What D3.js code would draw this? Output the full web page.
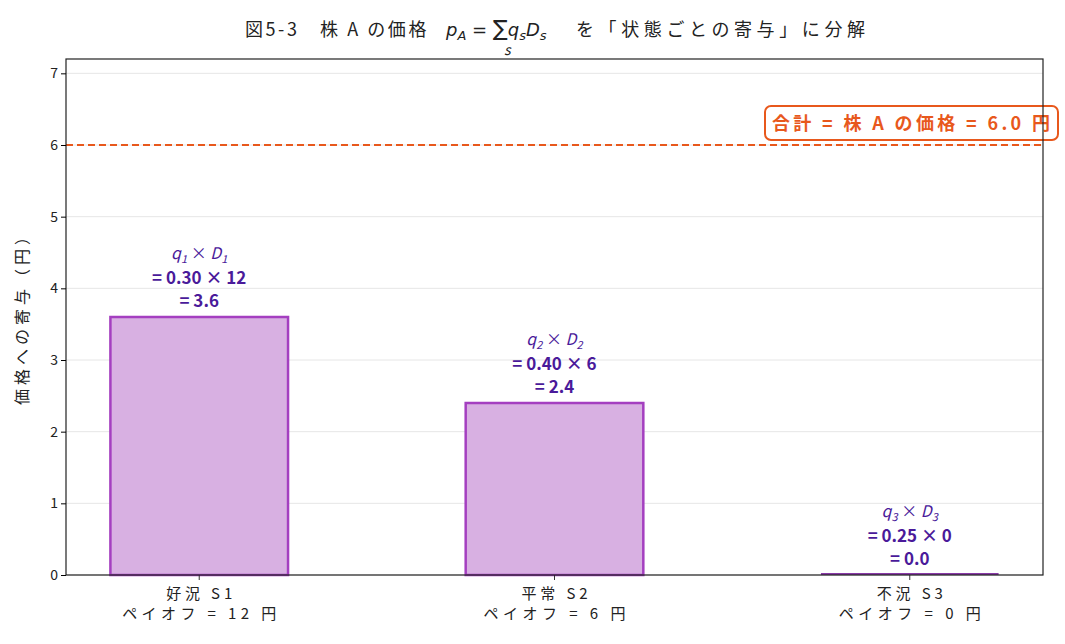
<!DOCTYPE html><html><head><meta charset="utf-8">
<script src="https://cdn.jsdelivr.net/npm/d3@7"></script>
<style>body{margin:0;background:#fff}text{font-family:"Noto Sans CJK JP","Noto Sans",sans-serif}</style></head><body>
<svg id="c" width="1065" height="644"></svg>
<script>
const categories=["好況 S1","平常 S2","不況 S3"];
const payoffLabels=["ペイオフ = 12 円","ペイオフ = 6 円","ペイオフ = 0 円"];
const probs=["0.30","0.40","0.25"];
const payoffs=["12","6","0"];
const values=[3.6,2.4,0.0];
const yTicks=[0,1,2,3,4,5,6,7];
const total=6.0;
const svg=d3.select("#c");
const L=66,R=1043,T=59,B=575;
const x=d3.scaleLinear().domain([-0.375,2.375]).range([L,R]);
const y=d3.scaleLinear().domain([0,7.2]).range([B,T]);
const purple="#4a1a9a",orange="#e8581c";
yTicks.forEach(t=>{svg.append("line").attr("x1",L).attr("x2",R).attr("y1",y(t)).attr("y2",y(t)).attr("stroke","#e6e6e6").attr("stroke-width",1);});
categories.forEach((c,i)=>{
 const bw=x(0.25)-x(-0.25);
 if(values[i]>0){
 svg.append("rect").attr("x",x(i-0.25)).attr("width",bw).attr("y",y(values[i])).attr("height",y(0)-y(values[i]))
 .attr("fill","#d8b0e2").attr("stroke","#a43fc0").attr("stroke-width",2.5);
 } else {
 svg.append("line").attr("x1",x(i-0.25)).attr("x2",x(i+0.25)).attr("y1",y(0)-1).attr("y2",y(0)-1).attr("stroke","#8a3aa8").attr("stroke-width",2);
 }
 const cx=x(i),top=y(values[i]);
 const g=svg.append("g").attr("fill",purple).attr("text-anchor","middle").attr("font-size",16);
 const t1=g.append("text").attr("x",cx).attr("y",top-58).attr("font-style","italic").attr("font-family","DejaVu Sans");
 t1.append("tspan").text("q");t1.append("tspan").attr("font-size",11).attr("dy",4).text(i+1);
 t1.append("tspan").attr("dy",-4).attr("font-style","normal").text(" × ");
 t1.append("tspan").text("D");t1.append("tspan").attr("font-size",11).attr("dy",4).text(i+1);
 g.append("text").attr("x",cx).attr("y",top-33).attr("font-weight","bold").attr("font-family","Roboto, sans-serif").attr("font-size",17).text("= "+probs[i]+" × "+payoffs[i]);
 g.append("text").attr("x",cx).attr("y",top-10).attr("font-weight","bold").attr("font-family","Roboto, sans-serif").attr("font-size",17).text("= "+values[i].toFixed(1));
 svg.append("line").attr("x1",cx).attr("x2",cx).attr("y1",B).attr("y2",B+5).attr("stroke","#333");
 svg.append("text").attr("x",cx).attr("y",B+24).attr("text-anchor","middle").attr("font-size",15).attr("fill","#222").attr("textLength",66).text(c);
 svg.append("text").attr("x",cx).attr("y",B+44).attr("text-anchor","middle").attr("font-size",15).attr("fill","#222").attr("textLength",c==categories[0]?154:142).text(payoffLabels[i]);
});
svg.append("line").attr("x1",L).attr("x2",R).attr("y1",y(total)).attr("y2",y(total)).attr("stroke",orange).attr("stroke-width",2).attr("stroke-dasharray","7,4");
svg.append("rect").attr("x",765).attr("y",106).attr("width",293).attr("height",34).attr("rx",6).attr("fill","#fff").attr("stroke",orange).attr("stroke-width",2);
svg.append("text").attr("x",911).attr("y",130).attr("text-anchor","middle").attr("font-size",18).attr("font-weight","bold").attr("fill",orange).attr("textLength",278).text("合計 = 株 A の価格 = "+total.toFixed(1)+" 円");
svg.append("rect").attr("x",L).attr("y",T).attr("width",R-L).attr("height",B-T).attr("fill","none").attr("stroke","#222").attr("stroke-width",1.2);
const ya=svg.append("g").attr("transform",`translate(${L},0)`).call(d3.axisLeft(y).tickValues(yTicks).tickSize(5).tickFormat(d3.format("d")));
ya.select(".domain").remove();ya.selectAll("text").attr("font-size",14).attr("fill","#222").style("font-family","Noto Sans CJK JP");
svg.append("text").attr("transform",`translate(28,${(T+B)/2}) rotate(-90)`).attr("text-anchor","middle").attr("font-size",16).attr("fill","#222").attr("textLength",176).text("価格への寄与（円）");
const tt=svg.append("text").attr("x",245).attr("y",36).attr("font-size",18).attr("fill","#222");
tt.append("tspan").attr("x",245).attr("textLength",188).text("図5-3　株 A の価格 ");
tt.append("tspan").attr("x",446).attr("font-style","italic").attr("font-family","DejaVu Sans").text("p");
tt.append("tspan").attr("font-style","italic").attr("font-size",13).attr("dy",4).attr("font-family","DejaVu Sans").text("A");
tt.append("tspan").attr("dy",-4).attr("font-family","DejaVu Sans").text(" = ");
tt.append("tspan").attr("font-family","DejaVu Sans").attr("font-size",22).text("∑");
tt.append("tspan").attr("font-style","italic").attr("font-family","DejaVu Sans").text("q");
tt.append("tspan").attr("font-style","italic").attr("font-size",13).attr("dy",4).attr("font-family","DejaVu Sans").text("s");
tt.append("tspan").attr("dy",-4).attr("font-style","italic").attr("font-family","DejaVu Sans").text("D");
tt.append("tspan").attr("font-style","italic").attr("font-size",13).attr("dy",4).attr("font-family","DejaVu Sans").text("s");
tt.append("tspan").attr("x",576).attr("dy",-4).attr("textLength",289).text("を「状態ごとの寄与」に分解");
svg.append("text").attr("x",504).attr("y",55).attr("font-size",14).attr("font-style","italic").attr("font-family","DejaVu Sans").attr("fill","#222").text("s");
</script></body></html>
